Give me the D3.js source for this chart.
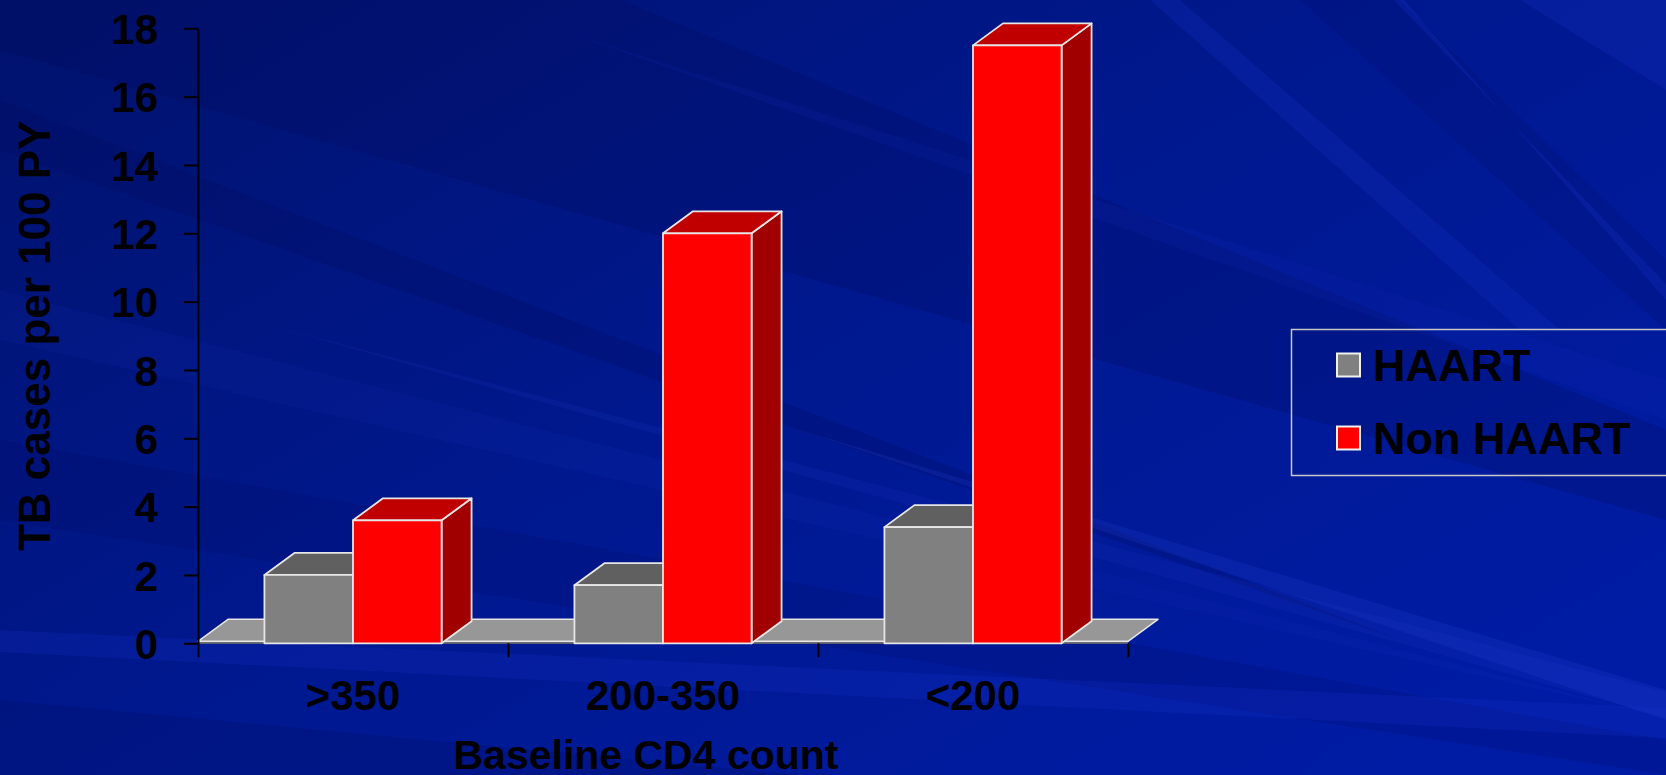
<!DOCTYPE html>
<html>
<head>
<meta charset="utf-8">
<script src="https://cdn.jsdelivr.net/npm/d3@7"></script>
<style>
  html, body { margin: 0; padding: 0; background: #00188c; }
  svg { display: block; }
  text { font-family: "Liberation Sans", Arial, sans-serif; font-weight: bold; fill: #000; }
</style>
</head>
<body>
<svg id="chart" width="1666" height="775"></svg>
<script>
// ---- data ----
const categories = [">350", "200-350", "<200"];
const seriesNames = ["HAART", "Non HAART"];
const haartValues = [2.0, 1.7, 3.4];
const nonHaartValues = [3.6, 12.0, 17.5];
const yTickValues = [0, 2, 4, 6, 8, 10, 12, 14, 16, 18];
const yTitle = "TB cases per 100 PY";
const xTitle = "Baseline CD4 count";

// ---- styling ----
const faces = {
  "HAART":     { front: "#808080", top: "#606060", side: "#4e4e4e" },
  "Non HAART": { front: "#ff0000", top: "#c00000", side: "#a00000" }
};
const edge = "#e6e6e6";
const W = 1666, H = 775;
const plot = { left: 198, right: 1128, top: 28.3, bottom: 643.3 };
const depth = { dx: 30, dy: -22 };

const svg = d3.select("#chart");

// ---- backdrop: blue slide with soft diagonal streaks ----
const defs = svg.append("defs");
const bgGrad = defs.append("linearGradient").attr("id", "bg")
  .attr("x1", "0").attr("y1", "0").attr("x2", "1").attr("y2", "0.8");
bgGrad.append("stop").attr("offset", "0").attr("stop-color", "#00126c");
bgGrad.append("stop").attr("offset", "0.5").attr("stop-color", "#00188e");
bgGrad.append("stop").attr("offset", "1").attr("stop-color", "#001ca4");
svg.append("rect").attr("width", W).attr("height", H).attr("fill", "url(#bg)");

// streaks taper to a point or run off the edge, so no hard vertical edges show
const streaks = [
  { pts: [[0, 0], [620, 0], [1666, 430], [1666, 520], [0, 50]], c: "#000a55", o: 0.22 },
  { pts: [[0, 100], [0, 150], [1400, 640]], c: "#000a55", o: 0.22 },
  { pts: [[0, 440], [0, 520], [1666, 775], [1666, 740]], c: "#000a55", o: 0.15 },
  { pts: [[0, 700], [0, 775], [800, 775]], c: "#000a55", o: 0.2 },
  { pts: [[0, 630], [0, 652], [1666, 738], [1666, 708]], c: "#1c3ad6", o: 0.18 },
  { pts: [[250, 320], [1666, 718], [1666, 692]], c: "#2a44d8", o: 0.12 },
  { pts: [[0, 290], [0, 340], [1666, 718]], c: "#2a44d8", o: 0.08 },
  { pts: [[800, 430], [1666, 720], [1666, 690]], c: "#2a44d8", o: 0.2 },
  { pts: [[560, 30], [1666, 420], [1666, 380]], c: "#1a34c8", o: 0.12 },
  { pts: [[1150, 0], [1180, 0], [1560, 330], [1520, 330]], c: "#1a36d0", o: 0.2 },
  { pts: [[1394, 0], [1404, 0], [1666, 300], [1666, 284]], c: "#1a36d0", o: 0.3 },
  { pts: [[1520, 0], [1666, 0], [1666, 90]], c: "#1a36d0", o: 0.2 },
  { pts: [[1300, 0], [1400, 0], [1666, 260], [1666, 330]], c: "#000a55", o: 0.15 }
];
svg.append("g").selectAll("polygon").data(streaks).join("polygon")
  .attr("points", d => d.pts.map(p => p.join(",")).join(" "))
  .attr("fill", d => d.c).attr("opacity", d => d.o);

// ---- scales ----
const x = d3.scaleBand().domain(categories).range([plot.left, plot.right]).padding(0);
const xSeries = d3.scaleBand().domain(seriesNames).range([0, x.bandwidth()])
  .paddingInner(0).paddingOuter(0.75);
const y = d3.scaleLinear().domain([0, 18]).range([plot.bottom, plot.top]);
const xEdges = d3.scaleLinear().domain([0, categories.length]).range([plot.left, plot.right]);

// ---- floor ----
const floorY = y(0);
const floorG = svg.append("g");
floorG.append("rect")
  .attr("x", plot.left).attr("y", floorY - 2)
  .attr("width", plot.right - plot.left).attr("height", 2.5)
  .attr("fill", "#6e6e6e");
floorG.append("polygon")
  .attr("points", [
    [plot.left, floorY - 2], [plot.right, floorY - 2],
    [plot.right + depth.dx, floorY - 2 + depth.dy], [plot.left + depth.dx, floorY - 2 + depth.dy]
  ].map(p => p.join(",")).join(" "))
  .attr("fill", "#979797").attr("stroke", edge).attr("stroke-width", 1.5)
  .attr("stroke-linejoin", "round");

// ---- axes ----
const yAxis = svg.append("g").attr("transform", `translate(${plot.left},0)`)
  .call(d3.axisLeft(y).tickValues(yTickValues).tickSize(14).tickSizeOuter(0).tickPadding(26));
yAxis.selectAll("path, line").attr("stroke", "#000").attr("stroke-width", 2);
yAxis.selectAll("text").style("font-size", "42px").attr("dy", "0.36em");

const xTicks = svg.append("g").attr("transform", `translate(0,${plot.bottom})`)
  .call(d3.axisBottom(xEdges).tickValues(d3.range(categories.length + 1)).tickSize(14).tickFormat(""));
xTicks.select(".domain").remove();
xTicks.selectAll("line").attr("stroke", "#000").attr("stroke-width", 2);

const xLabels = svg.append("g").attr("transform", `translate(0,${plot.bottom})`)
  .call(d3.axisBottom(x).tickSize(0).tickPadding(37));
xLabels.select(".domain").remove();
xLabels.selectAll("text").style("font-size", "42px");

// ---- 3D bars ----
const rows = categories.map((c, i) => ({ cat: c, values: [
  { s: seriesNames[0], v: haartValues[i] },
  { s: seriesNames[1], v: nonHaartValues[i] }
]}));

const pts = a => a.map(p => p.join(",")).join(" ");
const barsG = svg.append("g");
rows.forEach(r => {
  r.values.forEach(d => {
    const x0 = x(r.cat) + xSeries(d.s);
    const x1 = x0 + xSeries.bandwidth();
    const yt = y(d.v), yb = y(0);
    const f = faces[d.s];
    const g = barsG.append("g")
      .attr("stroke", edge).attr("stroke-width", 1.8).attr("stroke-linejoin", "round");
    g.append("polygon").attr("fill", f.side)
      .attr("points", pts([[x1, yb], [x1 + depth.dx, yb + depth.dy], [x1 + depth.dx, yt + depth.dy], [x1, yt]]));
    g.append("polygon").attr("fill", f.top)
      .attr("points", pts([[x0, yt], [x0 + depth.dx, yt + depth.dy], [x1 + depth.dx, yt + depth.dy], [x1, yt]]));
    g.append("rect").attr("fill", f.front)
      .attr("x", x0).attr("y", yt).attr("width", x1 - x0).attr("height", yb - yt);
  });
});

// ---- titles ----
svg.append("text")
  .attr("transform", `translate(50,${(plot.top + plot.bottom) / 2}) rotate(-90)`)
  .attr("text-anchor", "middle")
  .style("font-size", "44px")
  .text(yTitle);

svg.append("text")
  .attr("x", 646).attr("y", 769)
  .attr("text-anchor", "middle")
  .style("font-size", "41px")
  .text(xTitle);

// ---- legend ----
const legend = svg.append("g");
legend.append("rect")
  .attr("x", 1291.5).attr("y", 329.5).attr("width", 420).attr("height", 146)
  .attr("fill", "none").attr("stroke", "#c8c8c8").attr("stroke-width", 1.5);
const legendY = d3.scalePoint().domain(seriesNames).range([365, 438]);
const items = legend.selectAll("g.item").data(seriesNames).join("g").attr("class", "item")
  .attr("transform", d => `translate(1337,${legendY(d)})`);
items.append("rect")
  .attr("x", 0).attr("y", -11.5).attr("width", 23).attr("height", 23)
  .attr("fill", d => faces[d].front).attr("stroke", "#f0f0f0").attr("stroke-width", 2);
items.append("text")
  .attr("x", 36).attr("y", 16)
  .style("font-size", "45px")
  .text(d => d);
</script>
</body>
</html>
